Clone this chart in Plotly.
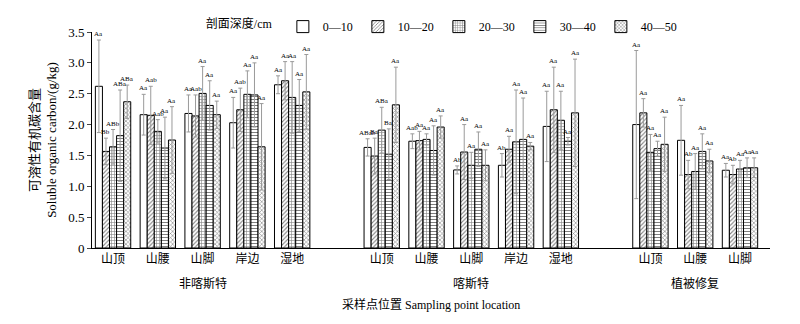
import plotly.graph_objects as go

groups = ["非喀斯特", "喀斯特", "植被修复"]
group_sites = [["山顶", "山腰", "山脚", "岸边", "湿地"],
               ["山顶", "山腰", "山脚", "岸边", "湿地"],
               ["山顶", "山腰", "山脚"]]
depths = ["0—10", "10—20", "20—30", "30—40", "40—50"]

mean_0_10 = [2.62, 2.16, 2.18, 2.03, 2.645, 1.63, 1.73, 1.265, 1.34, 1.97, 2.00, 1.745, 1.26]
mean_10_20 = [1.565, 2.15, 2.14, 2.24, 2.71, 1.49, 1.74, 1.555, 1.60, 2.24, 2.19, 1.19, 1.19]
mean_20_30 = [1.64, 1.89, 2.505, 2.49, 2.44, 1.91, 1.76, 1.34, 1.72, 2.07, 1.55, 1.24, 1.28]
mean_30_40 = [1.82, 1.62, 2.31, 2.48, 2.31, 1.52, 1.58, 1.60, 1.76, 1.73, 1.61, 1.565, 1.30]
mean_40_50 = [2.37, 1.75, 2.16, 1.64, 2.53, 2.32, 1.96, 1.34, 1.65, 2.19, 1.68, 1.41, 1.30]

err_0_10 = [0.75, 0.33, 0.30, 0.41, 0.145, 0.14, 0.12, 0.065, 0.19, 0.57, 1.20, 0.565, 0.11]
err_10_20 = [0.215, 0.47, 0.34, 0.35, 0.31, 0.29, 0.15, 0.445, 0.21, 0.69, 0.23, 0.23, 0.15]
err_20_30 = [0.28, 0.19, 0.435, 0.38, 0.58, 0.37, 0.09, 0.21, 0.84, 0.47, 0.29, 0.29, 0.14]
err_30_40 = [0.74, 0.50, 0.40, 0.52, 0.42, 0.41, 0.40, 0.28, 0.67, 0.06, 0.12, 0.285, 0.16]
err_40_50 = [0.27, 0.54, 0.22, 0.70, 0.605, 0.61, 0.18, 0.25, 0.06, 0.87, 0.44, 0.19, 0.16]

lab_0_10 = ["Aa", "Aa", "Aa", "Aa", "Aa", "ABab", "Aab", "Ab", "Ab", "Aa", "Aa", "Aa", "Aa"]
lab_10_20 = ["Bb", "Aab", "Aab", "Aab", "Aa", "Ba", "Aa", "Aa", "Aa", "Aa", "Aa", "Ab", "Ab"]
lab_20_30 = ["ABb", "Aab", "Aa", "Aa", "Aa", "ABa", "Aa", "Aa", "Aa", "Aa", "Aa", "Aa", "Aa"]
lab_30_40 = ["ABa", "Aa", "Aa", "Aa", "Aa", "Ba", "Aa", "Aa", "Aa", "Aa", "Aa", "Aa", "Aa"]
lab_40_50 = ["ABa", "Aa", "Aa", "Aa", "Aa", "Aa", "Aa", "Aa", "Aa", "Aa", "Aa", "Aa", "Aa"]

means = [mean_0_10, mean_10_20, mean_20_30, mean_30_40, mean_40_50]
errs = [err_0_10, err_10_20, err_20_30, err_30_40, err_40_50]
labs = [lab_0_10, lab_10_20, lab_20_30, lab_30_40, lab_40_50]
shapes = ["", "/", "+", "-", "x"]

# slot positions: one empty slot between groups
xpos, sites, group_centers = [], [], []
slot = 0
for g, s in zip(groups, group_sites):
    start = slot
    for name in s:
        xpos.append(slot)
        sites.append(name)
        slot += 1
    group_centers.append((start + slot - 1) / 2)
    slot += 1

SERIF = "Liberation Serif, Noto Sans CJK SC"
bargap = 0.21
fig = go.Figure()
for i, d in enumerate(depths):
    fig.add_trace(go.Bar(
        x=xpos, y=means[i], name=d,
        marker=dict(color="white", line=dict(color="black", width=1),
                    pattern=dict(shape=shapes[i], fgcolor="black", bgcolor="white",
                                 size=3, solidity=0.35, fillmode="overlay")),
        error_y=dict(type="data", array=errs[i], color="#9a9a9a", thickness=1, width=2),
    ))

bw = (1 - bargap) / len(depths)
ann = []
for i in range(len(depths)):
    for j, x in enumerate(xpos):
        ann.append(dict(x=x + (i - 2) * bw, y=means[i][j] + errs[i][j], xref="x", yref="y",
                        text=labs[i][j], showarrow=False, yanchor="bottom",
                        font=dict(size=7, family=SERIF, color="black")))
for g, c in zip(groups, group_centers):
    ann.append(dict(x=c, y=0, xref="x", yref="paper", yanchor="middle", yshift=-35,
                    text=g, showarrow=False, font=dict(size=12, family=SERIF, color="black")))
ann.append(dict(x=0.5, y=0, xref="paper", yref="paper", yanchor="middle", yshift=-56,
                text="采样点位置 Sampling point location", showarrow=False,
                font=dict(size=12, family=SERIF, color="black")))

fig.update_layout(
    width=800, height=324,
    margin=dict(l=92, r=30, t=22, b=76),
    paper_bgcolor="white", plot_bgcolor="white",
    barmode="group", bargap=bargap, bargroupgap=0,
    font=dict(family=SERIF, color="black", size=12),
    annotations=ann,
    legend=dict(orientation="h", x=0.165, xanchor="left", y=1.025, yanchor="middle",
                title=dict(text="剖面深度/cm ", side="left", font=dict(size=12)),
                font=dict(size=12, family=SERIF), bgcolor="rgba(0,0,0,0)",
                itemwidth=30, tracegroupgap=0),
    xaxis=dict(range=[-0.47, 14.67], tickvals=xpos, ticktext=sites, showline=True,
               linecolor="black", linewidth=1, ticks="", showgrid=False, zeroline=False,
               tickfont=dict(size=12, family=SERIF)),
    yaxis=dict(range=[0, 3.5], tickvals=[0, 0.5, 1, 1.5, 2, 2.5, 3, 3.5],
               ticktext=["0", "0.5", "1.0", "1.5", "2.0", "2.5", "3.0", "3.5"],
               showline=True, linecolor="black", linewidth=1, ticks="outside", ticklen=4,
               showgrid=False, zeroline=False, tickfont=dict(size=13, family=SERIF),
               title=dict(text="可溶性有机碳含量<br>Soluble organic carbon/(g/kg)",
                          font=dict(size=13, family=SERIF), standoff=8)),
)
fig.write_html("out.html")
